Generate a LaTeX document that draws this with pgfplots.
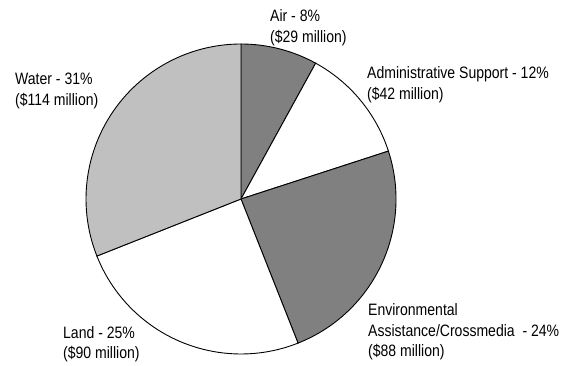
\documentclass[border=0pt]{standalone}
\usepackage{pgfplots}
\pgfplotsset{compat=1.18}
\usepackage{pgfplotstable}
\usepackage{fontspec}
\setmainfont{Liberation Sans}[FakeStretch=0.85]

\definecolor{darkslice}{HTML}{808080}
\definecolor{lightslice}{HTML}{C0C0C0}

% share of the budget, clockwise from 12 o'clock
\pgfplotstableread[col sep=comma]{
name,pct,color
Air,8,darkslice
Administrative Support,12,white
Environmental Assistance/Crossmedia,24,darkslice
Land,25,white
Water,31,lightslice
}\piedata

\tikzset{lbl/.style={font=\fontsize{16.5pt}{20pt}\selectfont, inner sep=0pt, anchor=base west}}

\begin{document}
\begin{tikzpicture}
\begin{axis}[
    width=563pt, height=366pt,
    scale only axis,
    hide axis,
    xmin=0, xmax=563,
    ymin=0, ymax=366,
    clip=false,
]
\path (axis cs:0,0) rectangle (axis cs:563,366);
\def\startang{90}
\pgfplotsforeachungrouped \i in {0,...,4}{%
  \pgfplotstablegetelem{\i}{pct}\of\piedata \let\slicepct=\pgfplotsretval
  \pgfplotstablegetelem{\i}{color}\of\piedata \let\slicecol=\pgfplotsretval
  \pgfmathsetmacro\endang{\startang-3.6*\slicepct}
  \edef\doslice{\noexpand\filldraw[fill=\slicecol, draw=black, line width=0.9pt]
    (axis cs:241,167) -- ++(\startang:155pt)
    arc[start angle=\startang, end angle=\endang, radius=155pt] -- cycle;}
  \doslice
  \global\let\startang=\endang
}

% labels, positions in pixels measured from the top of the picture
\node[lbl] at (axis cs:270,{366-21.5}) {Air - 8\%};
\node[lbl] at (axis cs:270,{366-43}) {(\$29 million)};
\node[lbl] at (axis cs:367,{366-79}) {Administrative Support - 12\%};
\node[lbl] at (axis cs:367,{366-100}) {(\$42 million)};
\node[lbl] at (axis cs:15,{366-84.5}) {Water - 31\%};
\node[lbl] at (axis cs:15,{366-105.5}) {(\$114 million)};
\node[lbl] at (axis cs:368,{366-316}) {Environmental};
\node[lbl] at (axis cs:368,{366-337}) {Assistance/Crossmedia~ - 24\%};
\node[lbl] at (axis cs:368,{366-357}) {(\$88 million)};
\node[lbl] at (axis cs:63,{366-339}) {Land - 25\%};
\node[lbl] at (axis cs:63,{366-359}) {(\$90 million)};
\end{axis}
\end{tikzpicture}
\end{document}
